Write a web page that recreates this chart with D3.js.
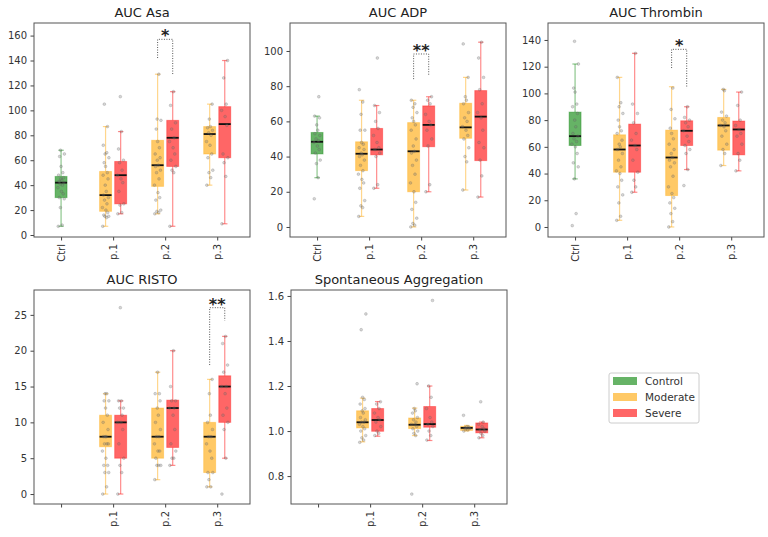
<!DOCTYPE html>
<html><head><meta charset="utf-8">
<script src="https://cdn.jsdelivr.net/npm/d3@7"></script>
<style>body{margin:0;background:#fff}svg{display:block;font-family:"DejaVu Sans",sans-serif}</style>
</head><body><svg id="c" width="768" height="537"></svg>
<script>
const categories = ["Ctrl","p.1","p.2","p.3"];
const groups = ["Control","Moderate","Severe"];
const groupColors = ["#008000","#FFA500","#FF0000"];
const titles = ["AUC Asa","AUC ADP","AUC Thrombin","AUC RISTO","Spontaneous Aggregation"];
const yTicks = [[0,20,40,60,80,100,120,140,160],[0,20,40,60,80,100],[0,20,40,60,80,100,120,140],[0,5,10,15,20,25],[0.8,1.0,1.2,1.4,1.6]];
const xTickLabels = [["Ctrl","p.1","p.2","p.3"],["Ctrl","p.1","p.2","p.3"],["Ctrl","p.1","p.2","p.3"],["","p.1","p.2","p.3"],["","p.1","p.2","p.3"]];

// box stats: [category, group, whiskerLow, q1, median, q3, whiskerHigh]
const asaBoxes = [["Ctrl","Control",7,30,42,47,68],["p.1","Moderate",7,19,32,51,87],["p.1","Severe",17,25,48,59,83],["p.2","Moderate",17,39,56,76,129],["p.2","Severe",7,55,78,92,115],["p.3","Moderate",40,65,81,87,105],["p.3","Severe",9,62,89,103,140]];
const adpBoxes = [["Ctrl","Control",28,41.5,48.4,53.7,63],["p.1","Moderate",6,32,41.6,48.4,72],["p.1","Severe",22,41,44,56,69],["p.2","Moderate",0,20,43,59.3,72],["p.2","Severe",20,45.6,58,68.8,74],["p.3","Moderate",21,50.4,56.6,70.3,85],["p.3","Severe",17,37.7,62.7,77.5,105]];
const thrBoxes = [["Ctrl","Control",36,61,68,86,122],["p.1","Moderate",5,41,58,69,112],["p.1","Severe",26,41,61,77,130],["p.2","Moderate",0,23.5,52,72.5,105],["p.2","Severe",43,61,72,79.5,90],["p.3","Moderate",46,57.5,76,82,103],["p.3","Severe",42,54,73,79.3,101]];
const ristoBoxes = [["p.1","Moderate",0,6.6,8,11,14],["p.1","Severe",0,5,10,11,13],["p.2","Moderate",2,5,8,12,17],["p.2","Severe",4,6.5,12,13.1,20],["p.3","Moderate",1,3,8,10,16],["p.3","Severe",5,10,15,16.5,22]];
const spontBoxes = [["p.1","Moderate",0.952,1.014,1.039,1.09,1.146],["p.1","Severe",0.977,0.999,1.049,1.10,1.131],["p.2","Moderate",0.98,1.011,1.028,1.058,1.102],["p.2","Severe",0.958,1.017,1.031,1.109,1.20],["p.3","Moderate",1.0,1.003,1.014,1.021,1.025],["p.3","Severe",0.97,0.992,1.007,1.036,1.04]];

// individual points: [category, group, values]
const asaPoints = [["Ctrl","Control",[7,8,22,29,30,33,35,38,40,41,42,43,44,45,46,48,50,55,63,65,68]],["p.1","Moderate",[7,14,15,15,16,18,20,22,25,28,30,32,35,40,45,48,50,55,58,62,65,66,72,87,105]],["p.1","Severe",[17,18,24,25,35,42,45,48,52,58,60,69,83,111]],["p.2","Moderate",[17,18,19,20,28,30,34,40,45,50,52,55,56,60,62,65,70,75,85,92,93,129]],["p.2","Severe",[7,50,52,55,60,65,70,75,78,85,90,104,115]],["p.3","Moderate",[40,46,50,52,62,65,72,75,80,82,84,86,87,93,105]],["p.3","Severe",[9,47,58,62,65,88,95,100,105,126,140]]];
const adpPoints = [["Ctrl","Control",[16,28,36,38,42,44,46,48,49,50,52,53,55,58,62,63,74]],["p.1","Moderate",[6,11,12,15,22,25,27,30,32,35,38,40,41,42,44,45,47,48,55,55,64,71,78]],["p.1","Severe",[22,24,40,42,44,45,48,52,56,60,65,69,96]],["p.2","Moderate",[0,1,2,5,10,14,20,25,30,35,38,42,43,46,50,55,58,60,62,65,68,70,72]],["p.2","Severe",[20,24,46,50,55,58,60,64,70,72,74]],["p.3","Moderate",[21,37,40,45,50,52,55,57,60,62,65,70,72,74,85,104]],["p.3","Severe",[17,29,38,45,48,55,62,65,70,78,85,96,105]]];
const thrPoints = [["Ctrl","Control",[1,10,36,45,48,55,60,62,64,66,68,70,75,80,85,90,92,101,104,122,139]],["p.1","Moderate",[5,8,18,24,30,35,40,42,45,50,55,58,60,62,65,70,72,75,80,85,90,93,112]],["p.1","Severe",[26,30,35,41,50,58,61,65,70,78,85,92,130]],["p.2","Moderate",[0,4,10,14,18,22,25,30,38,45,48,50,52,55,58,62,66,70,74,81,88,104]],["p.2","Severe",[31,43,55,58,61,64,68,72,75,78,80,82,90]],["p.3","Moderate",[46,55,58,62,68,72,75,76,78,80,83,86,102,103]],["p.3","Severe",[42,50,55,62,68,70,73,76,80,91,101]]];
const ristoPoints = [["p.1","Moderate",[0,1,3,3,4,4,5,6,7,7,7,8,8,8,9,10,11,12,13,13,14,14]],["p.1","Severe",[0,3,4,5,7,9,10,10,11,12,12,13,13,26]],["p.2","Moderate",[2,4,4,4,5,6,6,7,8,8,9,10,11,12,13,14,14,17]],["p.2","Severe",[4,5,5,6,7,9,11,12,12,13,13,15,20]],["p.3","Moderate",[1,1,2,3,3,5,6,7,8,8,9,10,11,14,16]],["p.3","Severe",[0,5,9,10,11,12,14,15,15,17,18,21,22]]];
const spontPoints = [["p.1","Moderate",[0.95,0.96,0.97,0.98,1.0,1.01,1.02,1.03,1.04,1.04,1.05,1.06,1.08,1.09,1.10,1.12,1.14,1.15,1.45,1.52]],["p.1","Severe",[0.98,0.99,1.0,1.02,1.04,1.05,1.06,1.08,1.10,1.12,1.13]],["p.2","Moderate",[0.72,0.98,0.99,1.0,1.01,1.02,1.03,1.03,1.04,1.05,1.06,1.08,1.09,1.10,1.21]],["p.2","Severe",[0.96,0.98,1.0,1.02,1.03,1.04,1.06,1.10,1.15,1.20,1.58]],["p.3","Moderate",[1.0,1.005,1.01,1.012,1.015,1.018,1.02,1.07]],["p.3","Severe",[0.97,0.98,0.99,1.0,1.005,1.01,1.02,1.03,1.04,1.13]]];

// significance brackets: [category, top, leftBottom, rightBottom, label]
const asaSig = [["p.2",157,142,128.5,"*"]];
const adpSig = [["p.2",98.3,84,86.4,"**"]];
const thrSig = [["p.2",133,119,104,"*"]];
const ristoSig = [["p.3",26,18,24.2,"**"]];
const spontSig = [];

const yDomains = [[-1.6,170.1],[-5.7,115.9],[-7.5,152.7],[-1.39,28.47],[0.676,1.6265]];
const boxesAll = [asaBoxes,adpBoxes,thrBoxes,ristoBoxes,spontBoxes];
const pointsAll = [asaPoints,adpPoints,thrPoints,ristoPoints,spontPoints];
const sigAll = [asaSig,adpSig,thrSig,ristoSig,spontSig];

const layout = [[34,23],[290,23],[548,23],[34,290],[291,290]];
const PW = 216, PH = 214;
const svg = d3.select("#c");
const color = d3.scaleOrdinal(groups, groupColors);
const dodge = {Control:0, Moderate:-0.145, Severe:0.145};
const jit = [-0.8,0.3,-0.2,0.9,-0.5,0.6,0.1,-0.9,0.4,-0.3,0.8,-0.6,0.2,-0.1,0.7,-0.7,0.5,0,-0.4,0.95,-0.15,0.35,-0.65,0.55,-0.35];

titles.forEach((t,pi)=>{
  const [L,T] = layout[pi];
  const g = svg.append("g").attr("transform",`translate(${L},${T})`);
  const x = d3.scaleLinear().domain([-0.52,3.63]).range([0,PW]);
  const y = d3.scaleLinear().domain(yDomains[pi]).range([PH,0]);
  const bw = 0.23;
  const fmt = pi===4 ? d3.format(".1f") : d3.format("d");
  const ya = g.append("g").call(d3.axisLeft(y).tickValues(yTicks[pi]).tickFormat(fmt).tickSize(3.5).tickPadding(3.5));
  ya.select(".domain").remove();
  ya.selectAll("text").attr("font-size",10).attr("fill","#333").attr("font-family","DejaVu Sans");
  ya.selectAll("line").attr("stroke","#444");
  const xa = g.append("g").attr("transform",`translate(0,${PH})`).call(d3.axisBottom(x).tickValues([0,1,2,3]).tickFormat((d,i)=>xTickLabels[pi][i]).tickSize(3.5).tickPadding(3.5));
  xa.select(".domain").remove();
  xa.selectAll("line").attr("stroke","#444");
  xa.selectAll("text").attr("font-size",10).attr("fill","#333").attr("font-family","DejaVu Sans")
    .attr("transform","rotate(-90)").attr("text-anchor","end").attr("dy","0.32em").attr("y",0).attr("x",-7);
  boxesAll[pi].forEach(b=>{
    const [cat,grp,lo,q1,med,q3,hi] = b;
    const cx = categories.indexOf(cat)+dodge[grp];
    const c = color(grp);
    const xc = x(cx), half = (x(bw)-x(0))/2;
    g.append("line").attr("x1",xc).attr("x2",xc).attr("y1",y(q3)).attr("y2",y(hi)).attr("stroke",c).attr("stroke-opacity",0.45).attr("stroke-width",1.2);
    g.append("line").attr("x1",xc).attr("x2",xc).attr("y1",y(q1)).attr("y2",y(lo)).attr("stroke",c).attr("stroke-opacity",0.45).attr("stroke-width",1.2);
    [lo,hi].forEach(v=>g.append("line").attr("x1",xc-half*0.45).attr("x2",xc+half*0.45).attr("y1",y(v)).attr("y2",y(v)).attr("stroke",c).attr("stroke-opacity",0.45).attr("stroke-width",1.2));
    g.append("rect").attr("x",xc-half).attr("width",2*half).attr("y",y(q3)).attr("height",Math.max(0.5,y(q1)-y(q3)))
      .attr("fill",c).attr("fill-opacity",0.6).attr("stroke",c).attr("stroke-opacity",0.35).attr("stroke-width",1);
    g.append("line").attr("x1",xc-half).attr("x2",xc+half).attr("y1",y(med)).attr("y2",y(med)).attr("stroke","#111").attr("stroke-width",1.8);
  });
  pointsAll[pi].forEach(p=>{
    const [cat,grp,vals] = p;
    const cx = categories.indexOf(cat)+dodge[grp];
    vals.forEach((v,i)=>{
      g.append("circle").attr("cx",x(cx)+jit[i%jit.length]*3.5).attr("cy",y(v)).attr("r",1.4)
        .attr("fill","#777").attr("fill-opacity",0.3).attr("stroke","#555").attr("stroke-opacity",0.4).attr("stroke-width",0.5);
    });
  });
  sigAll[pi].forEach(s=>{
    const [cat,top,lb,rb,lab] = s;
    const ci = categories.indexOf(cat);
    const xl = x(ci+dodge.Moderate), xr = x(ci+dodge.Severe);
    g.append("path").attr("d",`M${xl},${y(lb)}V${y(top)}H${xr}V${y(rb)}`).attr("fill","none")
      .attr("stroke","#555").attr("stroke-width",1).attr("stroke-dasharray","1,1.5");
    g.append("text").attr("x",(xl+xr)/2).attr("y",y(top)+2).attr("text-anchor","middle").attr("font-size",16).attr("font-weight","bold").attr("fill","#222").text(lab);
  });
  g.append("rect").attr("width",PW).attr("height",PH).attr("fill","none").attr("stroke","#555").attr("stroke-width",1);
  g.append("text").attr("x",PW/2).attr("y",-6).attr("text-anchor","middle").attr("font-size",13).attr("fill","#222").text(t);
});

const lg = svg.append("g").attr("transform","translate(609,373)");
lg.append("rect").attr("width",90).attr("height",50).attr("rx",2).attr("fill","#fff").attr("stroke","#ccc").attr("stroke-width",1);
groups.forEach((grp,i)=>{
  lg.append("rect").attr("x",4).attr("y",4+i*16).attr("width",24).attr("height",8).attr("fill",color(grp)).attr("fill-opacity",0.6);
  lg.append("text").attr("x",36).attr("y",12+i*16).attr("font-size",10.5).attr("fill","#333").text(grp);
});
</script></body></html>
